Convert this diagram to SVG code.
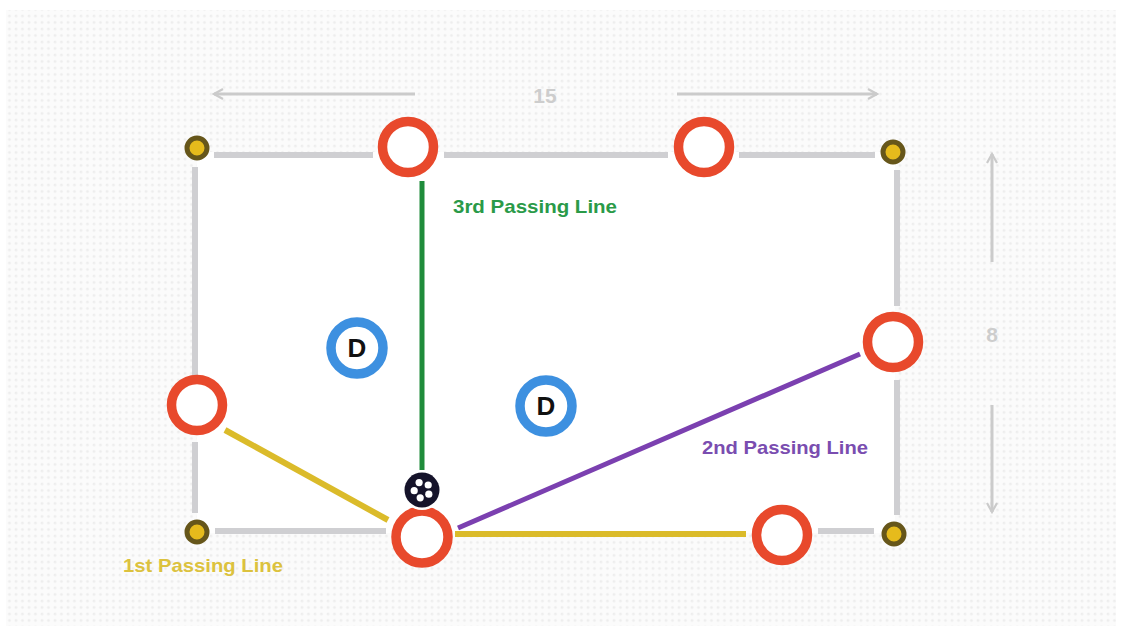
<svg xmlns="http://www.w3.org/2000/svg" width="1123" height="628" viewBox="0 0 1123 628">
<style>
.ring{fill:#fff;stroke:#e8492c;stroke-width:9.5}
.corner{fill:#e6bb1c;stroke:#66561a;stroke-width:5}
.dring{fill:#fff;stroke:#3d90e0;stroke-width:9.5}
.dtxt{font-family:"Liberation Sans",Arial,sans-serif;font-weight:bold;font-size:26px;fill:#111;text-anchor:middle}
.gray{stroke:#cfcfd2;stroke-width:6;fill:none}
.dim{stroke:#cbcbcb;stroke-width:3;fill:none}
.lbl{font-family:"Liberation Sans",Arial,sans-serif;font-weight:bold;font-size:19px}
.num{font-family:"Liberation Sans",Arial,sans-serif;font-weight:bold;font-size:21px;fill:#cdcdcd;text-anchor:middle}
</style>
<defs>
<pattern id="dots" width="6.5" height="6.5" patternUnits="userSpaceOnUse">
<rect width="6.5" height="6.5" fill="#fbfbfb"/>
<circle cx="3" cy="3" r="1.3" fill="#ededed"/>
</pattern>
<marker id="arr" viewBox="0 0 12 12" refX="10" refY="6" markerWidth="12" markerHeight="12" markerUnits="userSpaceOnUse" orient="auto">
<path d="M1,1 L10,6 L1,11" fill="none" stroke="#cbcbcb" stroke-width="2.2"/>
</marker>
</defs>
<rect width="1123" height="628" fill="#fff"/>
<rect x="6" y="10" width="1110" height="616" fill="url(#dots)"/>
<rect x="197" y="152" width="698" height="381" fill="#fff"/>

<g id="dimensions">
<line class="dim" x1="415" y1="94" x2="214" y2="94" marker-end="url(#arr)"/>
<line class="dim" x1="677" y1="94" x2="877" y2="94" marker-end="url(#arr)"/>
<text class="num" x="545" y="103">15</text>
<line class="dim" x1="992" y1="262" x2="992" y2="154" marker-end="url(#arr)"/>
<line class="dim" x1="992" y1="405" x2="992" y2="512" marker-end="url(#arr)"/>
<text class="num" x="992" y="342">8</text>
</g>

<g id="connectors">
<line class="gray" x1="214" y1="155" x2="373" y2="155"/>
<line class="gray" x1="444" y1="155" x2="668" y2="155"/>
<line class="gray" x1="739" y1="155" x2="875" y2="155"/>
<line class="gray" x1="195" y1="167" x2="195" y2="376"/>
<line class="gray" x1="195" y1="442" x2="195" y2="513"/>
<line class="gray" x1="215" y1="531" x2="386" y2="531"/>
<line class="gray" x1="818" y1="531" x2="874" y2="531"/>
<line class="gray" x1="897" y1="170" x2="897" y2="306"/>
<line class="gray" x1="897" y1="380" x2="897" y2="515"/>
<line x1="422" y1="181" x2="422" y2="470" stroke="#1f8c3b" stroke-width="5"/>
<line x1="225" y1="430" x2="388" y2="520" stroke="#dbbb2a" stroke-width="6"/>
<line x1="455" y1="534" x2="746" y2="534" stroke="#dbbb2a" stroke-width="6"/>
<line x1="458" y1="528" x2="860" y2="354" stroke="#7b40b0" stroke-width="5"/>
</g>

<g id="corner-tl"><circle class="corner" cx="197" cy="148" r="10"/></g>
<g id="corner-tr"><circle class="corner" cx="893" cy="152" r="10"/></g>
<g id="corner-bl"><circle class="corner" cx="197" cy="532" r="10"/></g>
<g id="corner-br"><circle class="corner" cx="894" cy="534" r="10"/></g>

<g id="player-top1"><circle class="ring" cx="408" cy="147" r="25.5"/></g>
<g id="player-top2"><circle class="ring" cx="704" cy="147" r="25.5"/></g>
<g id="player-left"><circle class="ring" cx="197" cy="405" r="25.5"/></g>
<g id="player-right"><circle class="ring" cx="893" cy="342" r="25.5"/></g>
<g id="player-bottom-center"><circle class="ring" cx="422" cy="537" r="26"/></g>
<g id="player-bottom-right"><circle class="ring" cx="782" cy="535" r="25.5"/></g>

<g id="defender1"><circle class="dring" cx="357" cy="348" r="26"/><text class="dtxt" x="357" y="357">D</text></g>
<g id="defender2"><circle class="dring" cx="546" cy="406" r="26"/><text class="dtxt" x="546" y="415">D</text></g>

<g id="ball">
<circle cx="422" cy="490" r="20" fill="#fff"/>
<circle cx="422" cy="490" r="17.5" fill="#15132a"/>
<g fill="#fff">
<circle cx="419.1" cy="482.6" r="3.6"/>
<circle cx="428.2" cy="485" r="3.6"/>
<circle cx="428.8" cy="494.2" r="3.6"/>
<circle cx="420.2" cy="497.8" r="3.6"/>
<circle cx="414.2" cy="490.7" r="3.6"/>
</g>
</g>

<g id="labels">
<text class="lbl" x="453" y="213" fill="#2a9a48" textLength="164" lengthAdjust="spacingAndGlyphs">3rd Passing Line</text>
<text class="lbl" x="702" y="454" fill="#7a4db0" textLength="166" lengthAdjust="spacingAndGlyphs">2nd Passing Line</text>
<text class="lbl" x="123" y="572" fill="#dcc23e" textLength="160" lengthAdjust="spacingAndGlyphs">1st Passing Line</text>
</g>
</svg>
